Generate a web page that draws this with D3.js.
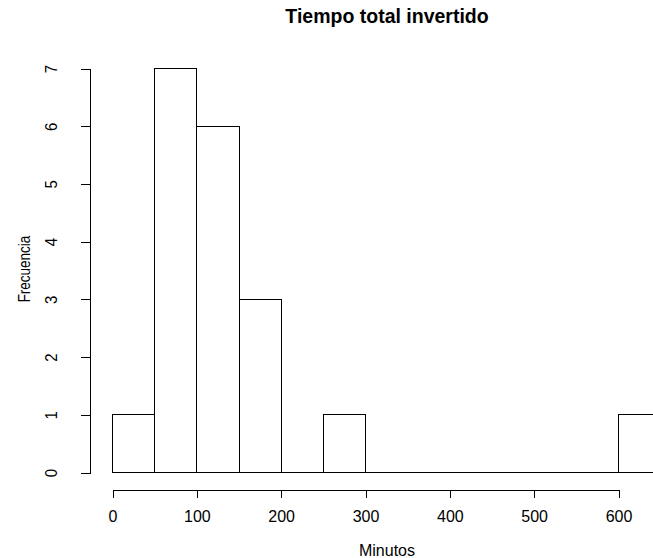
<!DOCTYPE html>
<html>
<head>
<meta charset="utf-8">
<script src="https://cdn.jsdelivr.net/npm/d3@7"></script>
<style>
  body { margin: 0; background: #fff; }
  text { font-family: "Liberation Sans", Arial, Helvetica, sans-serif; fill: #000; }
</style>
</head>
<body>
<script>
const binStarts = [0, 50, 100, 150, 200, 250, 300, 350, 400, 450, 500, 550, 600];
const counts = [1, 7, 6, 3, 0, 1, 0, 0, 0, 0, 0, 0, 1];
const binWidth = 50;
const xTicks = [0, 100, 200, 300, 400, 500, 600];
const yTicks = [0, 1, 2, 3, 4, 5, 6, 7];

const width = 653,
  height = 558;

const x = d3.scaleLinear().domain([0, 600]).range([112.5, 618.5]);
const y = d3.scaleLinear().domain([0, 7]).range([472.5, 68.5]);

const svg = d3
  .select('body')
  .append('svg')
  .attr('width', width)
  .attr('height', height);

// bars (zero counts still draw a flat line, like R's hist)
svg
  .selectAll('.bar')
  .data(binStarts)
  .enter()
  .append('path')
  .attr('class', 'bar')
  .attr('d', (d, i) => {
    const p = d3.path();
    p.moveTo(x(d), y(0));
    p.lineTo(x(d), y(counts[i]));
    p.lineTo(x(d + binWidth), y(counts[i]));
    p.lineTo(x(d + binWidth), y(0));
    p.closePath();
    return p.toString();
  })
  .style('fill', 'none')
  .style('stroke', '#000')
  .style('stroke-width', '1px')
  .style('shape-rendering', 'crispEdges');

const xAxis = svg
  .append('g')
  .attr('transform', 'translate(0,489.5)')
  .call(d3.axisBottom(x).tickValues(xTicks).tickSizeOuter(0).tickSize(8).tickPadding(13));

const yAxis = svg
  .append('g')
  .attr('transform', 'translate(89.5,0)')
  .call(d3.axisLeft(y).tickValues(yTicks).tickFormat(d3.format('d')).tickSizeOuter(0).tickSize(9));

[xAxis, yAxis].forEach(a => {
  a.selectAll('path, line').style('stroke', '#000').style('shape-rendering', 'crispEdges');
  a.selectAll('text').style('font-family', '"Liberation Sans", Arial, sans-serif').style('fill', '#000');
});

xAxis.selectAll('.tick text').style('font-size', '16px');

yAxis
  .selectAll('.tick text')
  .attr('x', 0)
  .attr('dy', 0)
  .attr('text-anchor', 'middle')
  .style('font-size', '15px')
  .attr('transform', 'translate(-33,0) rotate(-90) scale(1,1.1)');

svg
  .append('text')
  .attr('x', 387)
  .attr('y', 23)
  .attr('text-anchor', 'middle')
  .style('font-size', '19.5px')
  .style('font-weight', 'bold')
  .text('Tiempo total invertido');

svg
  .append('text')
  .attr('x', 387)
  .attr('y', 556)
  .attr('text-anchor', 'middle')
  .style('font-size', '16px')
  .text('Minutos');

svg
  .append('text')
  .attr('transform', 'translate(30,269) rotate(-90) scale(1,1.25)')
  .attr('text-anchor', 'middle')
  .style('font-size', '13.5px')
  .text('Frecuencia');
</script>
</body>
</html>
